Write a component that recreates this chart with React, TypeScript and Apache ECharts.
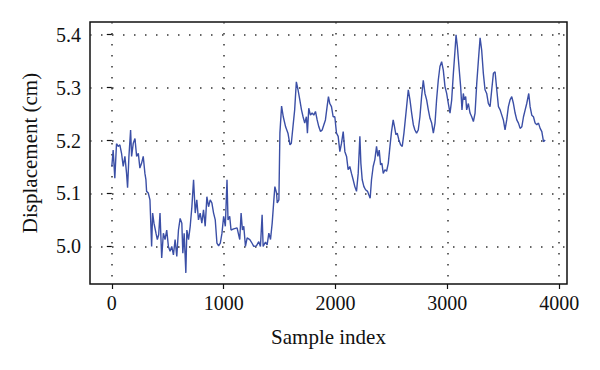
import React, { useEffect, useRef } from "react";
import * as echarts from "echarts";

const sampleIndex: number[] = [
  0, 12, 27, 42, 57, 72, 87, 102, 117, 132, 141, 153, 168, 177, 192, 207, 222, 237, 251, 266,
  281, 296, 305, 311, 326, 341, 356, 365, 377, 395, 407, 419, 431, 446, 461, 476, 491, 506, 521, 536,
  551, 566, 581, 596, 611, 626, 635, 647, 662, 671, 686, 701, 716, 731, 746, 760, 775, 790, 805, 820,
  835, 850, 865, 880, 895, 910, 925, 940, 955, 970, 985, 1000, 1015, 1030, 1039, 1054, 1066, 1090, 1120, 1144,
  1156, 1168, 1180, 1195, 1210, 1234, 1254, 1269, 1293, 1314, 1329, 1344, 1353, 1374, 1389, 1404, 1419, 1434, 1449, 1458,
  1473, 1479, 1494, 1503, 1518, 1533, 1554, 1575, 1593, 1605, 1623, 1635, 1650, 1665,
  1681, 1696, 1710, 1725, 1740, 1749, 1761, 1776, 1791, 1806, 1821, 1836, 1851, 1866, 1881, 1896, 1910, 1925, 1937, 1949,
  1964, 1979, 1994, 2009, 2024, 2039, 2054, 2069, 2084, 2099, 2113, 2128, 2143, 2158, 2173, 2188, 2203, 2218, 2227, 2239,
  2254, 2269, 2287, 2299, 2310, 2322, 2337, 2352, 2367, 2379, 2391, 2403, 2415, 2427, 2442, 2457, 2472, 2487, 2501, 2516,
  2528, 2540, 2552, 2567, 2582, 2597, 2612, 2624, 2636, 2651, 2666, 2681, 2696, 2710, 2725, 2740, 2755, 2770, 2785, 2800,
  2815, 2830, 2845, 2860, 2875, 2890, 2904, 2919, 2934, 2949, 2964, 2979, 2994, 3009, 3024, 3039, 3054, 3069, 3078, 3090,
  3104, 3119, 3131, 3143, 3152, 3164, 3173, 3188, 3203, 3218, 3233, 3248, 3263, 3278, 3293, 3307, 3322, 3337, 3352, 3367,
  3382, 3397, 3412, 3427, 3442, 3457, 3472, 3487, 3501, 3516, 3531, 3546, 3561, 3576, 3591, 3606, 3621, 3636, 3651, 3666,
  3681, 3696, 3710, 3728, 3740, 3755, 3770, 3785, 3800, 3815, 3830, 3845, 3860, 3875,
];

const displacement: number[] = [
  5.151, 5.182, 5.129, 5.194, 5.189, 5.192, 5.176, 5.151, 5.17, 5.138, 5.111, 5.17, 5.22, 5.17, 5.195, 5.204, 5.17, 5.176, 5.148, 5.157,
  5.17, 5.138, 5.126, 5.104, 5.101, 5.088, 5.0, 5.063, 5.044, 5.025, 5.013, 5.022, 5.063, 4.978, 5.025, 5.013, 5.031, 5.0, 4.991, 5.0,
  4.984, 5.013, 4.981, 5.031, 5.053, 5.044, 4.987, 5.025, 4.95, 5.031, 5.013, 5.038, 5.075, 5.126, 5.063, 5.088, 5.05, 5.063, 5.044, 5.069,
  5.038, 5.094, 5.075, 5.088, 5.082, 5.063, 5.05, 5.006, 5.001, 5.006, 5.025, 5.057, 5.038, 5.126, 5.05, 5.057, 5.031, 5.033, 5.035, 5.013,
  5.063, 5.031, 5.038, 5.0, 5.016, 5.013, 5.006, 5.0, 5.001, 5.009, 5.0, 5.06, 5.0, 5.008, 5.003, 5.025, 5.013, 5.044, 5.088, 5.113,
  5.101, 5.082, 5.088, 5.214, 5.265, 5.245, 5.226, 5.214, 5.192, 5.195, 5.233, 5.258, 5.311, 5.296,
  5.277, 5.258, 5.245, 5.233, 5.245, 5.214, 5.261, 5.248, 5.252, 5.248, 5.255, 5.239, 5.226, 5.217, 5.22, 5.23, 5.239, 5.264, 5.283, 5.27,
  5.264, 5.245, 5.245, 5.214, 5.208, 5.179, 5.195, 5.217, 5.179, 5.17, 5.145, 5.151, 5.138, 5.126, 5.113, 5.104, 5.138, 5.208, 5.157, 5.126,
  5.113, 5.107, 5.104, 5.097, 5.091, 5.126, 5.151, 5.164, 5.189, 5.17, 5.182, 5.154, 5.157, 5.138, 5.145, 5.142, 5.157, 5.189, 5.217, 5.239,
  5.226, 5.211, 5.214, 5.201, 5.192, 5.189, 5.214, 5.239, 5.264, 5.296, 5.277, 5.252, 5.23, 5.22, 5.214, 5.22, 5.245, 5.283, 5.314, 5.289,
  5.277, 5.258, 5.242, 5.233, 5.214, 5.233, 5.277, 5.314, 5.34, 5.349, 5.333, 5.302, 5.289, 5.27, 5.252, 5.277, 5.327, 5.371, 5.4, 5.377,
  5.34, 5.302, 5.258, 5.289, 5.277, 5.283, 5.258, 5.27, 5.252, 5.245, 5.236, 5.252, 5.308, 5.352, 5.394, 5.371, 5.327, 5.296, 5.289, 5.27,
  5.264, 5.296, 5.327, 5.33, 5.296, 5.264, 5.258, 5.248, 5.239, 5.22, 5.239, 5.264, 5.277, 5.283, 5.27, 5.252, 5.239, 5.233, 5.223, 5.226,
  5.245, 5.258, 5.27, 5.289, 5.264, 5.248, 5.245, 5.233, 5.23, 5.233, 5.223, 5.217, 5.198, 5.201,
];

const xTicks: number[] = [0, 1000, 2000, 3000, 4000];
const yTicks: number[] = [5.0, 5.1, 5.2, 5.3, 5.4];

const FONT = "'Liberation Serif', 'DejaVu Serif', serif";

export default function App() {
  const ref = useRef<HTMLDivElement>(null);
  useEffect(() => {
    if (!ref.current) return;
    const chart = echarts.init(ref.current, undefined, { renderer: "svg" });
    const data = sampleIndex.map((s, i) => [s, displacement[i]]);
    const dotted = { color: "#333", width: 1.5, type: [1.5, 9.5] as number[] };
    chart.setOption({
      animation: false,
      backgroundColor: "#fff",
      grid: {
        left: 90,
        top: 22,
        right: 33,
        bottom: 86,
        show: true,
        borderColor: "#111",
        borderWidth: 1.5,
        backgroundColor: "transparent",
      },
      xAxis: {
        type: "value",
        min: -195,
        max: 4070,
        name: "Sample index",
        nameLocation: "middle",
        nameGap: 42,
        nameTextStyle: { fontFamily: FONT, fontSize: 21, color: "#111" },
        axisLine: { show: false },
        axisTick: { show: true, length: 5, inside: false, customValues: xTicks, lineStyle: { color: "#111", width: 1.2 } },
        axisLabel: {
          customValues: xTicks,
          fontFamily: FONT,
          fontSize: 20,
          color: "#111",
          margin: 9,
          formatter: (v: number) => String(v),
        },
        splitLine: { show: true, lineStyle: dotted },
      },
      yAxis: {
        type: "value",
        min: 4.929,
        max: 5.424,
        name: "Displacement (cm)",
        nameLocation: "middle",
        nameGap: 50,
        nameTextStyle: { fontFamily: FONT, fontSize: 21, color: "#111" },
        axisLine: { show: false },
        axisTick: { show: true, length: 5, inside: false, customValues: yTicks, lineStyle: { color: "#111", width: 1.2 } },
        axisLabel: {
          customValues: yTicks,
          fontFamily: FONT,
          fontSize: 20,
          color: "#111",
          margin: 9,
          formatter: (v: number) => v.toFixed(1),
        },
        splitLine: { show: true, lineStyle: dotted },
      },
      series: [
        {
          type: "line",
          data,
          showSymbol: false,
          symbol: "none",
          lineStyle: { color: "#3b4fa6", width: 1.4 },
        },
      ],
    });
    return () => chart.dispose();
  }, []);
  return (
    <div
      ref={ref}
      style={{ position: "fixed", left: 0, top: 0, width: 600, height: 370 }}
    />
  );
}
